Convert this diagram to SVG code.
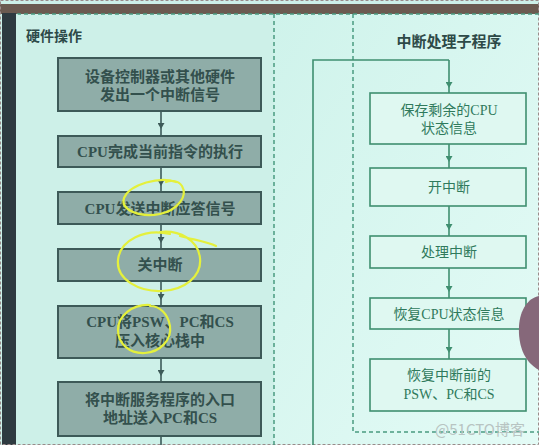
<svg xmlns="http://www.w3.org/2000/svg" width="539" height="445" viewBox="0 0 539 445">
<defs>
<marker id="ahL" markerWidth="6" markerHeight="7" refX="3" refY="3.5" orient="auto" markerUnits="userSpaceOnUse"><path d="M0,0 L6,3.5 L0,7 z" fill="#3d5a58"/></marker>
<marker id="ahR" markerWidth="6" markerHeight="7" refX="3" refY="3.5" orient="auto" markerUnits="userSpaceOnUse"><path d="M0,0 L6,3.5 L0,7 z" fill="#3f8f70"/></marker>
<linearGradient id="bgR" x1="0" y1="0" x2="1" y2="1"><stop offset="0" stop-color="#cff3eb"/><stop offset="1" stop-color="#e4fbf6"/></linearGradient>
</defs>
<style>
.lbox rect{fill:#8fada8;stroke:#3d5a58;stroke-width:2}
.lbox text{font-family:"Liberation Serif","Noto Sans CJK SC",serif;font-weight:bold;font-size:15px;fill:#33504d;text-anchor:middle;dominant-baseline:central}
.rbox rect{fill:#dff8f1;stroke:#3f8f70;stroke-width:1.6}
.rbox text{font-family:"Liberation Serif","Noto Sans CJK SC",serif;font-size:14px;fill:#2f7a5c;text-anchor:middle;dominant-baseline:central}
.title{font-family:"Liberation Serif","Noto Sans CJK SC",serif;font-weight:bold;fill:#2e4a48}
.cl{fill:none;stroke:#3d5a58;stroke-width:1.6;marker-mid:url(#ahL)}
.cr{fill:none;stroke:#3f8f70;stroke-width:1.6;marker-mid:url(#ahR)}
.dash{fill:none;stroke:#4a9a80;stroke-width:1.5;stroke-dasharray:4 3}
.yl{fill:none;stroke:#e4f03c;stroke-width:2.2;stroke-linecap:round}
</style>
<g id="background">
<rect x="0" y="0" width="539" height="445" fill="#cdf0e8"/>
<rect x="274" y="14" width="265" height="431" fill="url(#bgR)"/>
<rect x="0" y="4" width="539" height="10" fill="#6b5a50"/>
<rect x="2" y="13" width="14" height="432" fill="#2e3a40"/>
<rect x="0.5" y="0.5" width="538" height="444" fill="none" stroke="#9a8a8a" stroke-width="1" stroke-dasharray="3 2"/>
<path class="dash" d="M17,14 H539 M274,14 V445 M353,14 V432 H539"/>
<path d="M17,14 V445" fill="none" stroke="#cdf0e8" stroke-width="1.5" stroke-dasharray="2 3"/>
</g>
<text class="title" x="26" y="36" font-size="14" dominant-baseline="central">硬件操作</text>
<text class="title" x="449" y="42" font-size="15" text-anchor="middle" dominant-baseline="central">中断处理子程序</text>
<g id="connectors">
<path class="cl" d="M161,111 L161,126 L161,136"/>
<path class="cl" d="M161,167 L161,183 L161,192"/>
<path class="cl" d="M161,224 L161,240 L161,249"/>
<path class="cl" d="M161,281 L161,297 L161,306"/>
<path class="cl" d="M161,358 L161,373 L161,382"/>
<path class="cl" d="M161,436 L161,445"/>
<path d="M313,445 V60 H449" fill="none" stroke="#3f8f70" stroke-width="1.6"/>
<path class="cr" d="M449,60 L449,85 L449,93"/>
<path class="cr" d="M449,144 L449,159 L449,168"/>
<path class="cr" d="M449,206 L449,227 L449,236"/>
<path class="cr" d="M449,268 L449,289 L449,298"/>
<path class="cr" d="M449,329 L449,350 L449,359"/>
</g>
<g id="h1" class="lbox"><rect x="58" y="58" width="203" height="53"/><text x="160" y="77">设备控制器或其他硬件</text><text x="160" y="95">发出一个中断信号</text></g>
<g id="h2" class="lbox"><rect x="58" y="136" width="203" height="31"/><text x="160" y="152">CPU完成当前指令的执行</text></g>
<g id="h3" class="lbox"><rect x="58" y="192" width="203" height="32"/><text x="160" y="209">CPU发送中断应答信号</text></g>
<g id="h4" class="lbox"><rect x="58" y="249" width="203" height="32"/><text x="160" y="265">关中断</text></g>
<g id="h5" class="lbox"><rect x="58" y="306" width="203" height="52"/><text x="160" y="322">CPU将PSW、PC和CS</text><text x="160" y="341">压入核心栈中</text></g>
<g id="h6" class="lbox"><rect x="58" y="382" width="203" height="54"/><text x="160" y="400">将中断服务程序的入口</text><text x="160" y="418">地址送入PC和CS</text></g>
<g id="s1" class="rbox"><rect x="370" y="93" width="156" height="51"/><text x="449" y="110">保存剩余的CPU</text><text x="449" y="128">状态信息</text></g>
<g id="s2" class="rbox"><rect x="370" y="168" width="156" height="38"/><text x="449" y="187">开中断</text></g>
<g id="s3" class="rbox"><rect x="370" y="236" width="156" height="32"/><text x="449" y="252">处理中断</text></g>
<g id="s4" class="rbox"><rect x="370" y="298" width="156" height="31"/><text x="449" y="314">恢复CPU状态信息</text></g>
<g id="s5" class="rbox"><rect x="370" y="359" width="156" height="52"/><text x="449" y="375">恢复中断前的</text><text x="449" y="394">PSW、PC和CS</text></g>
<g id="annotations">
<path class="yl" d="M176,182 C160,176 130,184 124,198 C120,210 140,218 160,214 C178,210 188,196 182,186 C178,180 170,180 166,182"/>
<path class="yl" d="M170,234 C145,228 120,240 118,260 C116,280 140,292 162,291 C185,290 202,276 200,258 C198,240 180,230 160,232 M180,236 C195,240 208,242 216,246"/>
<path class="yl" d="M150,305 C132,304 118,316 118,330 C118,344 130,354 145,353 C160,352 172,340 170,326 C168,314 160,306 150,306"/>
<path d="M539,296 C528,298 520,310 519,326 C518,345 524,362 539,370 Z" fill="#86687a"/>
</g>
<text x="480" y="428" font-family="'Noto Sans CJK SC','DejaVu Sans',sans-serif" font-size="15" fill="#b8c4c2" text-anchor="middle" dominant-baseline="central">@51CTO博客</text>
</svg>
